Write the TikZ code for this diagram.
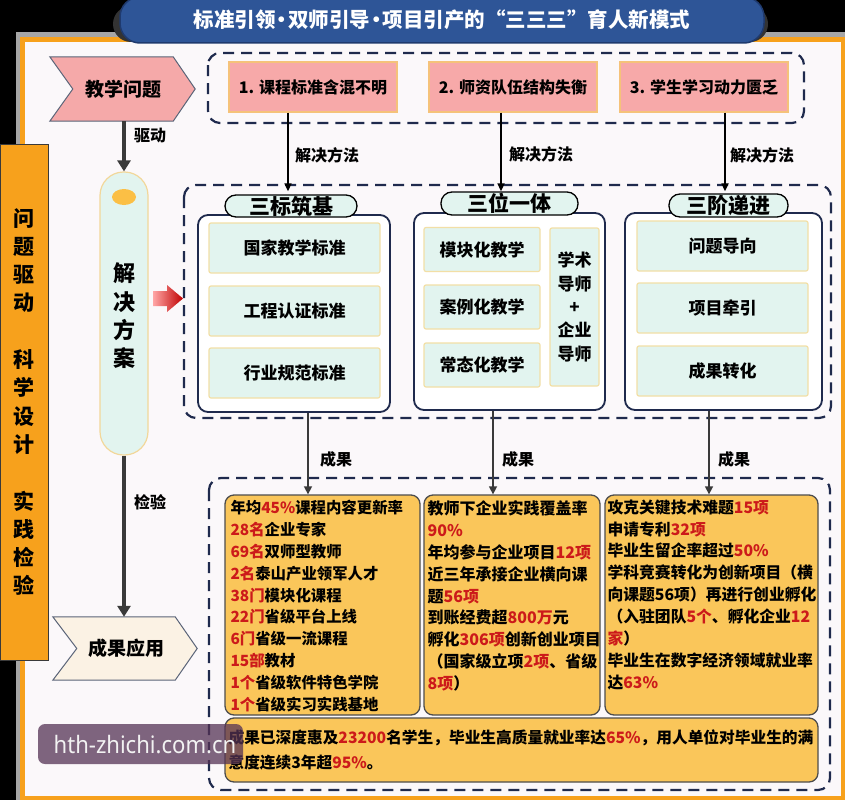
\documentclass[tikz,border=0pt]{standalone}
\usepackage{fontspec}
\setmainfont{Noto Sans CJK SC}
\newfontfamily\wmfont{Noto Sans}
\usetikzlibrary{arrows.meta,calc}
\definecolor{navy}{HTML}{1F2A4D}
\definecolor{mint}{HTML}{E2F4EF}
\definecolor{itemborder}{HTML}{F2DFA6}
\definecolor{probfill}{HTML}{F7A9A9}
\definecolor{probborder}{HTML}{F5C27A}
\definecolor{resfill}{HTML}{FAC65A}
\definecolor{resborder}{HTML}{4D4D4D}
\definecolor{titleblue}{HTML}{2E5597}
\definecolor{titleborder}{HTML}{1F3A6E}
\definecolor{orangebar}{HTML}{F7A11C}
\definecolor{panelfill}{HTML}{FBF8FA}
\definecolor{arrgrey}{HTML}{3A3A3A}
\definecolor{chevpink}{HTML}{F5A9A9}
\definecolor{chevborder}{HTML}{5A6478}
\definecolor{cream}{HTML}{FBF2E4}
\definecolor{resred}{HTML}{CC1A1A}
\definecolor{pillborder}{HTML}{F2D79A}
\definecolor{dotorange}{HTML}{FBBF45}
\newcommand{\fsz}[2]{\fontsize{#1}{#2}\selectfont}
\newcommand{\redt}[1]{\textcolor{resred}{#1}}
\newcommand{\tbul}{\kern-0.2em•\kern-0.2em}
\begin{document}
\begin{tikzpicture}[x=1pt,y=-1pt,
  dashbox/.style={draw=navy, line width=2.2pt, dash pattern=on 11pt off 7pt, rounded corners=12pt},
  probbox/.style={draw=probborder, fill=probfill, line width=1.2pt, minimum width=168pt, minimum height=50pt, inner sep=0pt, font=\fsz{16}{19}\bfseries},
  grpbox/.style={draw=navy, fill=white, line width=1.8pt, rounded corners=10pt, inner sep=0pt},
  tabbox/.style={draw=black, fill=mint, line width=1.3pt, rounded corners=11pt, inner sep=0pt, font=\fsz{21}{21}\bfseries},
  itembox/.style={draw=itemborder, fill=mint, line width=1.2pt, rounded corners=2pt, inner sep=0pt, font=\fsz{17}{23.3}\bfseries, align=center},
  resbox/.style={draw=resborder, fill=resfill, line width=1.3pt, rounded corners=9pt, inner sep=0pt},
  restext/.style={anchor=north west, inner sep=0pt, align=left, font=\fsz{16}{21.9}\bfseries},
  thickarr/.style={draw=arrgrey, line width=4pt, -{Triangle[length=11pt,width=13pt]}},
  thinarr/.style={draw=black, line width=1.6pt, -{Triangle[length=8pt,width=7pt]}},
  resarr/.style={draw=arrgrey, line width=1.5pt, -{Triangle[length=8pt,width=8pt]}},
  lbl/.style={font=\fsz{16}{18}\bfseries, anchor=west, inner sep=0pt},
  chev/.style={draw=chevborder, line width=1pt}
]
\useasboundingbox (0,0) rectangle (845,800);
\fill[black] (0,0) rectangle (845,800);
% main panel
\fill[gray!70] (16,32) rectangle (845,800);
\fill[orangebar] (20,37) rectangle (845,800);
\fill[panelfill] (25,42) rectangle (841,796);
% left bar
\node[draw=arrgrey, fill=orangebar, line width=1pt, minimum width=48pt, minimum height=516pt, inner sep=0pt] (bar) at (24,402) {};
\node[align=center, inner sep=0pt, font=\fsz{21}{28.3}\bfseries] (bartext) at (bar.center) {问\\题\\驱\\动\\[28.3pt]科\\学\\设\\计\\[28.3pt]实\\践\\检\\验};
% title
\fill[gray!40!black, rounded corners=18pt] (113,6) rectangle (768,42);
\node[draw=titleborder, fill=titleblue, line width=1.5pt, rounded corners=20pt, minimum width=644pt, minimum height=46pt, inner sep=0pt, text=white, font=\fsz{20.5}{24}\bfseries] (title) at (442,20) {标准引领\tbul 双师引导\tbul 项目引产的“三三三”育人新模式};
% dashed boxes
\draw[dashbox] (208,53) rectangle (804,123);
\draw[dashbox] (184,185) rectangle (831,418);
\draw[dashbox] (209,478) rectangle (830,790);
% problem boxes
\node[probbox] (p1) at (313,87) {1. 课程标准含混不明};
\node[probbox] (p2) at (513,87) {2. 师资队伍结构失衡};
\node[probbox] (p3) at (704,87) {3. 学生学习动力匮乏};
% chevron 教学问题
\node[minimum width=123pt, minimum height=64pt, inner sep=0pt] (jx) at (111.5,89) {};
\filldraw[chev, fill=chevpink] (jx.north west) -- (jx.north east) -- ($(jx.east)+(22,0)$) -- (jx.south east) -- (jx.south west) -- ($(jx.west)+(23,0)$) -- cycle;
\node[font=\fsz{19}{22}\bfseries, inner sep=0pt] (jxt) at ($(jx.center)+(12,0)$) {教学问题};
% pill
\node[draw=pillborder, fill=mint, line width=1.2pt, rounded corners=23.5pt, minimum width=48pt, minimum height=283pt, inner sep=0pt] (pill) at (124,313.5) {};
\fill[dotorange] (124,197) ellipse (12pt and 8pt);
\node[align=center, inner sep=0pt, font=\fsz{22}{28.3}\bfseries] (pilltext) at (124,316) {解\\决\\方\\案};
% chevron 成果应用
\node[minimum width=122pt, minimum height=63pt, inner sep=0pt] (cy) at (114,648.5) {};
\filldraw[chev, fill=cream] (cy.north west) -- (cy.north east) -- ($(cy.east)+(22,0)$) -- (cy.south east) -- (cy.south west) -- ($(cy.west)+(24,0)$) -- cycle;
\node[font=\fsz{19}{22}\bfseries, inner sep=0pt] (cyt) at ($(cy.center)+(12,0)$) {成果应用};
% thick arrows
\draw[thickarr] (pill.north |- jx.south) -- (pill.north);
\node[lbl] (ldrive) at (134,136) {驱动};
\draw[thickarr] (pill.south) -- (pill.south |- cy.north);
\node[lbl] (lcheck) at (134,502) {检验};
% red arrow
\shade[left color=red!35!white, right color=red!75!black] (153,291) -- (167,291) -- (167,285) -- (183,298.5) -- (167,312) -- (167,306) -- (153,306) -- cycle;
% groups
\node[grpbox, minimum width=192pt, minimum height=197pt] (g1) at (294,313.5) {};
\node[grpbox, minimum width=191pt, minimum height=197pt] (g2) at (509.5,311.5) {};
\node[grpbox, minimum width=197pt, minimum height=197pt] (g3) at (723.5,311.5) {};
\node[tabbox, minimum width=132pt, minimum height=22pt] (t1) at (291,206) {三标筑基};
\node[tabbox, minimum width=137pt, minimum height=23pt] (t2) at (509.5,203.5) {三位一体};
\node[tabbox, minimum width=119pt, minimum height=23pt] (t3) at (728.5,205.5) {三阶递进};
\node[itembox, minimum width=171pt, minimum height=50pt] (a1) at (294.5,248) {国家教学标准};
\node[itembox, minimum width=171pt, minimum height=50pt] (a2) at (294.5,311) {工程认证标准};
\node[itembox, minimum width=171pt, minimum height=50pt] (a3) at (294.5,373) {行业规范标准};
\node[itembox, minimum width=116pt, minimum height=44pt] (b1) at (482,249.5) {模块化教学};
\node[itembox, minimum width=116pt, minimum height=44pt] (b2) at (482,307) {案例化教学};
\node[itembox, minimum width=116pt, minimum height=44pt] (b3) at (482,365) {常态化教学};
\node[itembox, minimum width=49pt, minimum height=158pt] (b4) at (574.5,307) {学术\\导师\\+\\企业\\导师};
\node[itembox, minimum width=171pt, minimum height=50pt] (c1) at (722.5,246) {问题导向};
\node[itembox, minimum width=171pt, minimum height=50pt] (c2) at (722.5,308) {项目牵引};
\node[itembox, minimum width=171pt, minimum height=50pt] (c3) at (722.5,371) {成果转化};
% arrows from problems
\coordinate (e1) at ($(t1.north)+(-3,-3)$);
\coordinate (e2) at ($(t2.north)+(-8.5,0)$);
\coordinate (e3) at ($(t3.north)+(-3.5,-2)$);
\draw[thinarr] (e1 |- p1.south) -- (e1);
\draw[thinarr] (e2 |- p2.south) -- (e2);
\draw[thinarr] (e3 |- p3.south) -- (e3);
\node[lbl] (m1) at (295,155) {解决方法};
\node[lbl] (m2) at (509,154) {解决方法};
\node[lbl] (m3) at (730,155) {解决方法};
% result boxes
\node[resbox, minimum width=195pt, minimum height=220pt] (ra) at (322.5,605) {};
\node[resbox, minimum width=176pt, minimum height=220pt] (rb) at (512,605) {};
\node[resbox, minimum width=213pt, minimum height=220pt] (rc) at (711.5,605) {};
\node[resbox, minimum width=593pt, minimum height=64pt] (rd) at (521.5,750) {};
\coordinate (s1) at ($(g1.south)+(14,0)$);
\coordinate (s2) at ($(g2.south)+(-16.5,0)$);
\coordinate (s3) at ($(g3.south)+(-14.5,0)$);
\draw[resarr] (s1) -- (s1 |- ra.north);
\draw[resarr] (s2) -- (s2 |- rb.north);
\draw[resarr] (s3) -- (s3 |- rc.north);
\node[lbl] (r1) at (320,459) {成果};
\node[lbl] (r2) at (502,459) {成果};
\node[lbl] (r3) at (718,459) {成果};
\node[restext, font=\fsz{15.4}{21.9}\bfseries] (ta) at ($(ra.north west)+(6,5.5)$) {年均\redt{45\%}课程内容更新率\\
\redt{28名}企业专家\\
\redt{69名}双师型教师\\
\redt{2名}泰山产业领军人才\\
\redt{38门}模块化课程\\
\redt{22门}省级平台上线\\
\redt{6门}省级一流课程\\
\redt{15部}教材\\
\redt{1个}省级软件特色学院\\
\redt{1个}省级实习实践基地};
\node[restext] (tb) at ($(rb.north west)+(4,6)$) {教师下企业实践覆盖率\\
\redt{90\%}\\
年均参与企业项目\redt{12项}\\
近三年承接企业横向课\\
题\redt{56项}\\
到账经费超\redt{800万}元\\
孵化\redt{306项}创新创业项目\\
（国家级立项\redt{2项}、省级\\
\redt{8项}）};
\node[restext, font=\fsz{15.8}{21.9}\bfseries] (tc) at ($(rc.north west)+(3,5)$) {攻克关键技术难题\redt{15项}\\
申请专利\redt{32项}\\
毕业生留企率超过\redt{50\%}\\
学科竞赛转化为创新项目（横\\
向课题56项）再进行创业孵化\\
（入驻团队\redt{5个}、孵化企业\redt{12}\\
\redt{家}）\\
毕业生在数字经济领域就业率\\
达\redt{63\%}};
\node[restext, font=\fsz{15.7}{25}\bfseries] (td) at ($(rd.north west)+(4,12)$) {成果已深度惠及\redt{23200}名学生，毕业生高质量就业率达\redt{65\%}，用人单位对毕业生的满\\
意度连续3年超\redt{95\%}。};
% watermark
\node[fill=black!55!violet!60!gray, fill opacity=0.75, rounded corners=7pt, minimum width=205pt, minimum height=40pt, inner sep=0pt] (wm) at (140.5,744) {};
\node[text=white!90!gray, font=\wmfont\fsz{24}{26}, inner sep=0pt, xscale=0.92] (wmt) at (145,745) {hth-zhichi.com.cn};
\end{tikzpicture}
\end{document}
